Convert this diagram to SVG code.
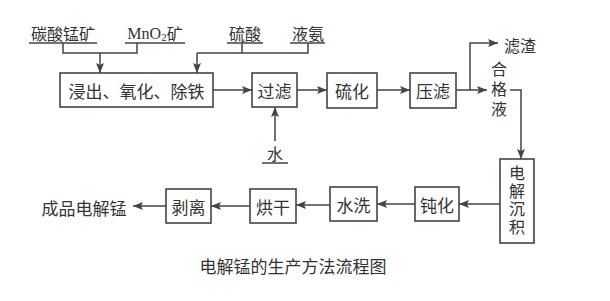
<svg xmlns="http://www.w3.org/2000/svg" width="610" height="301" viewBox="0 0 610 301">
<style>
.bx{fill:#fff;stroke:#444;stroke-width:1.6}
.t{font-family:"Noto Sans CJK SC",sans-serif;font-size:17px;fill:#333;text-anchor:middle;dominant-baseline:central}
.v{font-family:"Noto Sans CJK SC",sans-serif;font-size:16px;fill:#333;text-anchor:middle;writing-mode:vertical-rl}
.lb{font-family:"Noto Sans CJK SC",sans-serif;font-size:16px;fill:#333;text-anchor:middle;dominant-baseline:central}
.ln{fill:none;stroke:#444;stroke-width:1.5}
.ar{fill:none;stroke:#444;stroke-width:1.5;marker-end:url(#ah)}
</style>
<defs>
<marker id="ah" viewBox="0 0 10 8" refX="10" refY="4" markerWidth="10" markerHeight="8" markerUnits="userSpaceOnUse" orient="auto">
<path d="M0,0 L10,4 L0,8 L2,4 Z" fill="#444"/>
</marker>
</defs>
<rect width="610" height="301" fill="#fff"/>
<g id="inputs">
<text class="lb" x="63" y="33">碳酸锰矿</text>
<text class="lb" x="155" y="33"><tspan font-family="Liberation Serif" font-size="16">MnO</tspan><tspan font-family="Liberation Serif" font-size="11" dy="4">2</tspan><tspan dy="-4">矿</tspan></text>
<text class="lb" x="245" y="33">硫酸</text>
<text class="lb" x="308" y="33">液氨</text>
<text class="lb" x="275" y="153">水</text>
</g>
<g id="n1"><rect class="bx" x="60" y="73" width="153" height="34"/><text class="t" x="136.5" y="90">浸出、氧化、除铁</text></g>
<g id="n2"><rect class="bx" x="252" y="73" width="45" height="34"/><text class="t" x="274.5" y="90">过滤</text></g>
<g id="n3"><rect class="bx" x="327" y="73" width="50" height="35"/><text class="t" x="352" y="90">硫化</text></g>
<g id="n4"><rect class="bx" x="410" y="73" width="46" height="35"/><text class="t" x="433" y="90">压滤</text></g>
<g id="n5"><text class="lb" x="520" y="45">滤渣</text></g>
<g id="n6"><text class="v" x="499" y="91" letter-spacing="4">合格液</text></g>
<g id="n7"><rect class="bx" x="500" y="159" width="34" height="84"/>
<text class="v" x="517" y="201" letter-spacing="2">电解沉积</text></g>
<g id="n8"><rect class="bx" x="415" y="187" width="44" height="34"/><text class="t" x="437" y="204">钝化</text></g>
<g id="n9"><rect class="bx" x="330" y="187" width="47" height="34"/><text class="t" x="353.5" y="204">水洗</text></g>
<g id="n10"><rect class="bx" x="250" y="189" width="46" height="34"/><text class="t" x="273" y="206">烘干</text></g>
<g id="n11"><rect class="bx" x="166" y="189" width="45" height="34"/><text class="t" x="188.5" y="206">剥离</text></g>
<g id="n12"><text class="t" x="84" y="207" font-size="18">成品电解锰</text></g>
<g id="caption"><text class="t" x="293" y="265" font-size="20.5">电解锰的生产方法流程图</text></g>
<g id="connectors">
<path class="ln" d="M29,43 H97 M125,43 H185 M227,43 H263 M290,43 H325 M262,163 H288"/>
<path class="ln" d="M63,43 V53 H137 V43"/>
<path class="ar" d="M100,53 V73"/>
<path class="ln" d="M242,43 V53 M197,53 H308 V43"/>
<path class="ar" d="M197,53 V73"/>
<path class="ar" d="M213,90 H252"/>
<path class="ar" d="M275,141 V107"/>
<path class="ar" d="M297,90 H327"/>
<path class="ar" d="M377,90 H410"/>
<path class="ar" d="M456,90 H470 V43 H498"/>
<path class="ar" d="M470,90 H487"/>
<path class="ar" d="M510,90 H521 V159"/>
<path class="ar" d="M500,204 H459"/>
<path class="ar" d="M415,204 H377"/>
<path class="ar" d="M330,205 H296"/>
<path class="ar" d="M250,206 H211"/>
<path class="ar" d="M166,206 H133"/>
</g>
</svg>
